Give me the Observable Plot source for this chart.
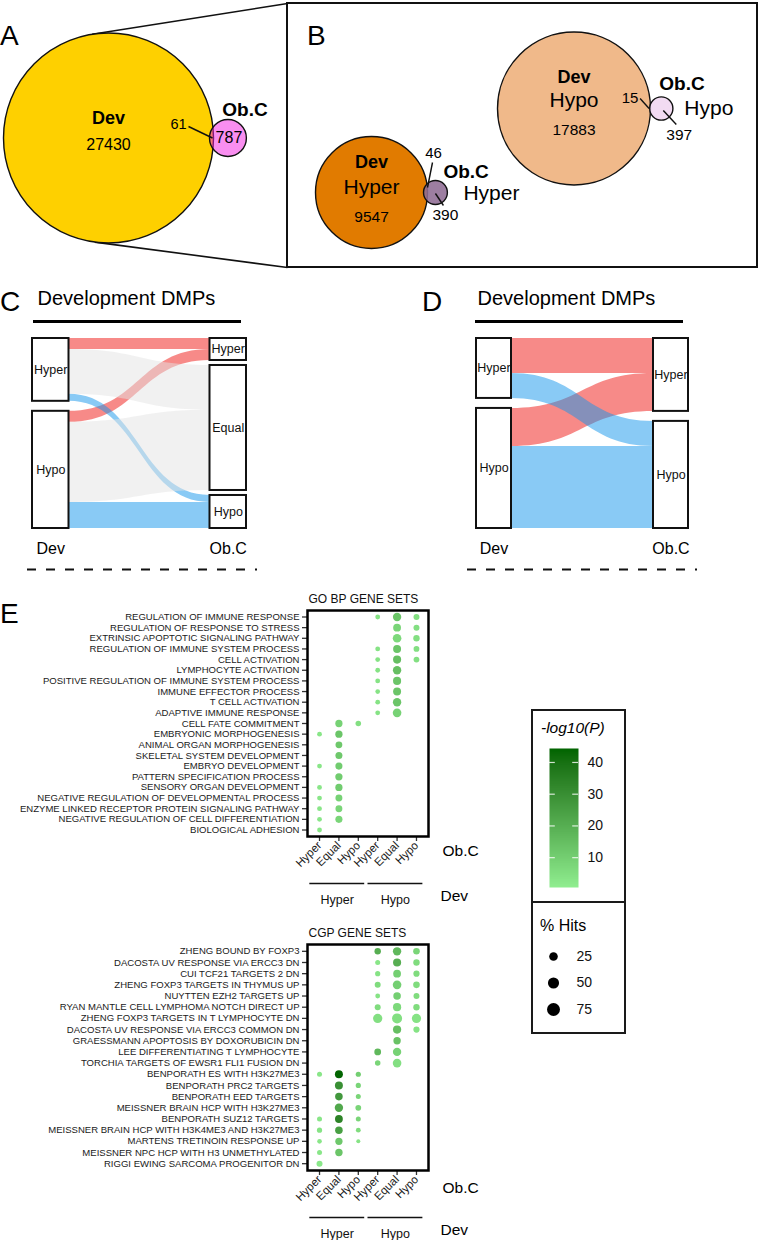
<!DOCTYPE html>
<html><head><meta charset="utf-8">
<script src="https://cdn.jsdelivr.net/npm/d3@7"></script>
<script src="https://cdn.jsdelivr.net/npm/@observablehq/plot@0.6"></script>
<style>
html,body{margin:0;padding:0;background:#fff;}
#root{position:relative;width:759px;height:1240px;overflow:hidden;font-family:"Liberation Sans",Arial,Helvetica,sans-serif;color:#000;background:#fff;}
.abs{position:absolute;}
.abs svg{display:block;overflow:visible;}
</style></head><body><div id="root"></div>
<script>
const FONT = '"Liberation Sans", Arial, Helvetica, sans-serif';
const _ = null;

// ---------- Panel A / B : Venn counts ----------
const vennA_sets = ["Dev", "Ob.C"];
const vennA_only = [27430, 787];
const vennA_overlap = 61;
const vennB_dirs = ["Hyper", "Hypo"];
const vennB_devOnly = [9547, 17883];
const vennB_obcOnly = [390, 397];
const vennB_overlap = [46, 15];

// ---------- Panel C / D : alluvial flows ----------
const devLevels = ["Hyper", "Hypo"];
const obcLevelsC = ["Hyper", "Equal", "Hypo"];
const flowC_dev = ["Hyper", "Hyper", "Hyper", "Hypo", "Hypo", "Hypo"];
const flowC_obc = ["Hyper", "Equal", "Hypo", "Hyper", "Equal", "Hypo"];
const flowC_n   = [1675, 6852, 1066, 1683, 12238, 3977];
const obcLevelsD = ["Hyper", "Hypo"];
const flowD_dev = ["Hyper", "Hyper", "Hypo", "Hypo"];
const flowD_obc = ["Hyper", "Hypo", "Hyper", "Hypo"];
const flowD_pct = [19.4, 13.9, 21.1, 45.6];

// ---------- Panel E : enrichment dot plots ----------
const obcCols = ["Hyper", "Equal", "Hypo"];
const devGroups = ["Hyper", "Hypo"];
const goTerms = [
  "REGULATION OF IMMUNE RESPONSE","REGULATION OF RESPONSE TO STRESS","EXTRINSIC APOPTOTIC SIGNALING PATHWAY",
  "REGULATION OF IMMUNE SYSTEM PROCESS","CELL ACTIVATION","LYMPHOCYTE ACTIVATION",
  "POSITIVE REGULATION OF IMMUNE SYSTEM PROCESS","IMMUNE EFFECTOR PROCESS","T CELL ACTIVATION",
  "ADAPTIVE IMMUNE RESPONSE","CELL FATE COMMITMENT","EMBRYONIC MORPHOGENESIS","ANIMAL ORGAN MORPHOGENESIS",
  "SKELETAL SYSTEM DEVELOPMENT","EMBRYO DEVELOPMENT","PATTERN SPECIFICATION PROCESS","SENSORY ORGAN DEVELOPMENT",
  "NEGATIVE REGULATION OF DEVELOPMENTAL PROCESS","ENZYME LINKED RECEPTOR PROTEIN SIGNALING PATHWAY",
  "NEGATIVE REGULATION OF CELL DIFFERENTIATION","BIOLOGICAL ADHESION"];
// columns: Dev Hyper x (Hyper, Equal, Hypo), Dev Hypo x (Hyper, Equal, Hypo)
const goPct = [
  [_,_,_,3.4,23,8],[_,_,_,_,19,8],[_,_,_,_,25,10],[_,_,_,3.4,20,7],[_,_,_,3.4,21,7],
  [_,_,_,3.4,23,_],[_,_,_,3.4,21,_],[_,_,_,3,20,_],[_,_,_,3.4,23,_],[_,_,_,3.4,25,_],
  [_,15,6,_,_,_],[3.4,15,_,_,_,_],[_,12.5,_,_,_,_],[_,13.5,_,_,_,_],[3.4,14,_,_,_,_],
  [_,15,_,_,_,_],[3.4,15,_,_,_,_],[3.4,13,_,_,_,_],[3.4,13,_,_,_,_],[3.4,14,_,_,_,_],[3.4,_,_,_,_,_]];
const goLogP = [
  [_,_,_,4,13,5],[_,_,_,_,8,5],[_,_,_,_,7,5],[_,_,_,4,13,5],[_,_,_,4,15,5],
  [_,_,_,4,15,_],[_,_,_,4,13,_],[_,_,_,4,13,_],[_,_,_,4,13,_],[_,_,_,4,9,_],
  [_,9,5,_,_,_],[3,13,_,_,_,_],[_,12,_,_,_,_],[_,12,_,_,_,_],[3,11,_,_,_,_],
  [_,11,_,_,_,_],[3,11,_,_,_,_],[3,9,_,_,_,_],[3,8,_,_,_,_],[3,8,_,_,_,_],[3,_,_,_,_,_]];
const cgpTerms = [
  "ZHENG BOUND BY FOXP3","DACOSTA UV RESPONSE VIA ERCC3 DN","CUI TCF21 TARGETS 2 DN",
  "ZHENG FOXP3 TARGETS IN THYMUS UP","NUYTTEN EZH2 TARGETS UP","RYAN MANTLE CELL LYMPHOMA NOTCH DIRECT UP",
  "ZHENG FOXP3 TARGETS IN T LYMPHOCYTE DN","DACOSTA UV RESPONSE VIA ERCC3 COMMON DN",
  "GRAESSMANN APOPTOSIS BY DOXORUBICIN DN","LEE DIFFERENTIATING T LYMPHOCYTE",
  "TORCHIA TARGETS OF EWSR1 FLI1 FUSION DN","BENPORATH ES WITH H3K27ME3","BENPORATH PRC2 TARGETS",
  "BENPORATH EED TARGETS","MEISSNER BRAIN HCP WITH H3K27ME3","BENPORATH SUZ12 TARGETS",
  "MEISSNER BRAIN HCP WITH H3K4ME3 AND H3K27ME3","MARTENS TRETINOIN RESPONSE UP",
  "MEISSNER NPC HCP WITH H3 UNMETHYLATED","RIGGI EWING SARCOMA PROGENITOR DN"];
const cgpPct = [
  [_,_,_,10,23,11],[_,_,_,4,21,10],[_,_,_,4.7,18.7,9],[_,_,_,8,25,11],[_,_,_,3.4,17,8],
  [_,_,_,8,21.7,10],[_,_,_,30,38,30],[_,_,_,_,21.7,9],[_,_,_,_,16,_],[_,_,_,12,23,_],
  [_,_,_,6,25,_],[4,20,4.7,_,_,_],[_,20,4.7,_,_,_],[_,17,4,_,_,_],[_,23,7,_,_,_],
  [4,19,4,_,_,_],[4.7,17,3.4,_,_,_],[2.8,15,1.4,_,_,_],[4,16,_,_,_,_],[8,_,_,_,_,_]];
const cgpLogP = [
  [_,_,_,20,17,8],[_,_,_,3,20,6],[_,_,_,4,10,6],[_,_,_,6,10,6],[_,_,_,4,10,6],
  [_,_,_,6,7,6],[_,_,_,5,5,4],[_,_,_,_,15,4],[_,_,_,_,14,_],[_,_,_,17,9,_],
  [_,_,_,8,5,_],[3,44,10,_,_,_],[_,30,8,_,_,_],[_,27,8,_,_,_],[_,22,8,_,_,_],
  [3,34,8,_,_,_],[4,25,6,_,_,_],[3,12,4,_,_,_],[3,13,_,_,_,_],[2.5,_,_,_,_,_]];
const logPTicks = [10, 20, 30, 40];
const hitsLegend = [25, 50, 75];

// ---------- shared scales ----------
const colorOpts = {type: "linear", domain: [0.6, 44.4], range: ["#90EE90", "#006400"], interpolate: "lab"};
const rOpts = {type: "sqrt", domain: [0, 75], range: [1.3, 6.5]};
const baseStyle = {fontFamily: FONT, background: "transparent", overflow: "visible", color: "#000"};

const root = document.getElementById("root");
function place(el, left, top, w, h) {
  const d = document.createElement("div");
  d.className = "abs";
  d.style.left = left + "px"; d.style.top = top + "px";
  if (w) d.style.width = w + "px";
  if (h) d.style.height = h + "px";
  d.appendChild(el); root.appendChild(d); return d;
}

// ================= Venn A =================
const devTotA = vennA_only[0] + vennA_overlap, obcTotA = vennA_only[1] + vennA_overlap;
const LA = {cx: 108, cy: 137.5, depth: 4, rMax: 105};
const rScaleA = {type: "sqrt", domain: [0, devTotA], range: [0, LA.rMax]};
const sA = Plot.scale({r: rScaleA});
const RA = sA.apply(devTotA), rA2 = sA.apply(obcTotA);
const devA = {n: devTotA, x: LA.cx, y: LA.cy};
const obcA = {n: obcTotA, x: LA.cx + RA + rA2 - LA.depth, y: LA.cy};
const ovA = {x: LA.cx + RA - LA.depth / 2, y: LA.cy};
const boxB = {x1: 287, y1: 3, x2: 757, y2: 267};
function tangent(P, C, R, sign) {
  const dx = P.x - C.x, dy = P.y - C.y, d = Math.hypot(dx, dy);
  const a = Math.atan2(dy, dx) + sign * Math.acos(R / d);
  return {x: C.x + R * Math.cos(a), y: C.y + R * Math.sin(a)};
}
const tTop = tangent({x: boxB.x1, y: boxB.y1}, devA, RA, -1);
const tBot = tangent({x: boxB.x1, y: boxB.y2}, devA, RA, 1);
const zoomLines = [
  {x1: tTop.x, y1: tTop.y, x2: boxB.x1, y2: boxB.y1},
  {x1: tBot.x, y1: tBot.y, x2: boxB.x1, y2: boxB.y2}];

const vennFrame = {width: 759, height: 270, margin: 0,
  x: {domain: [0, 759], range: [0, 759], axis: null},
  y: {domain: [0, 270], range: [0, 270], axis: null}, style: baseStyle};

const plotA = Plot.plot({...vennFrame, r: rScaleA, marks: [
  Plot.link(zoomLines, {x1: "x1", y1: "y1", x2: "x2", y2: "y2", stroke: "#111", strokeWidth: 1.6}),
  Plot.rect([boxB], {x1: "x1", y1: "y1", x2: "x2", y2: "y2", fill: "none", stroke: "#111", strokeWidth: 2}),
  Plot.dot([devA], {x: "x", y: "y", r: "n", fill: "#FED000", stroke: "#111", strokeWidth: 1.4}),
  Plot.dot([obcA], {x: "x", y: "y", r: "n", fill: "#F31DE2", fillOpacity: 0.5, stroke: "#111", strokeWidth: 1.4}),
  Plot.text([devA], {x: "x", y: "y", text: () => vennA_sets[0], dy: -19.5, fontWeight: "bold", fontSize: 18}),
  Plot.text([devA], {x: "x", y: "y", text: () => String(vennA_only[0]), dy: 6.5, fontSize: 16}),
  Plot.text([obcA], {x: "x", y: "y", text: () => vennA_sets[1], dx: 17, dy: -28, fontWeight: "bold", fontSize: 19}),
  Plot.text([obcA], {x: "x", y: "y", text: () => String(vennA_only[1]), dx: 1, fontSize: 16}),
  Plot.text([ovA], {x: "x", y: "y", text: () => String(vennA_overlap), dx: -33, dy: -14, fontSize: 14.5}),
  Plot.link([ovA], {x1: d => d.x - 23, y1: d => d.y - 11.5, x2: d => d.x + 1, y2: "y", stroke: "#111", strokeWidth: 1.4})
]});
place(plotA, 0, 0, 759, 270);

// ================= Venn B =================
const rScaleB = {type: "sqrt", domain: [0, vennB_devOnly[0] + vennB_overlap[0]], range: [0, 56]};
const sB = Plot.scale({r: rScaleB});
const LB = [
  {cx: 371, cy: 192, depth: 4, dev: [-30, -5, 25], obcTitle: [8, -21], obcDir: [28, 1], obcN: [10, 23], obcLead: [0, 1, 8, 13], ovN: [8, -39], ovLead: [7, -30, 2, -5]},
  {cx: 573.5, cy: 108, depth: 0.8, dev: [-31, -8, 22], obcTitle: [-2, -25], obcDir: [23, 0], obcN: [18, 27], obcLead: [2, 2, 15, 16], ovN: [-20, -10], ovLead: [-10, -10, -1, 0]}];
const vB = vennB_dirs.map((dir, k) => {
  const L = LB[k];
  const devN = vennB_devOnly[k] + vennB_overlap[k], obcN = vennB_obcOnly[k] + vennB_overlap[k];
  const R = sB.apply(devN), r = sB.apply(obcN);
  return {k, dir, L, devN, obcN, dx: L.cx, dy: L.cy, ox: L.cx + R + r - L.depth, oy: L.cy, vx: L.cx + R - L.depth / 2, vy: L.cy,
          devOnly: vennB_devOnly[k], obcOnly: vennB_obcOnly[k], ov: vennB_overlap[k]};
});
const devFillsB = ["#E17B00", "#F0B98A"], obcFillsB = ["#8F6C94", "#F0D6F0"];
const marksB = [];
vB.forEach(d => {
  const L = d.L;
  marksB.push(
    Plot.dot([d], {x: "dx", y: "dy", r: "devN", fill: devFillsB[d.k], stroke: "#111", strokeWidth: 1.4}),
    Plot.dot([d], {x: "ox", y: "oy", r: "obcN", fill: obcFillsB[d.k], fillOpacity: 0.88, stroke: "#111", strokeWidth: 1.4}),
    Plot.text([d], {x: "dx", y: "dy", text: () => "Dev", dy: L.dev[0], fontWeight: "bold", fontSize: 18}),
    Plot.text([d], {x: "dx", y: "dy", text: "dir", dy: L.dev[1], fontSize: 21}),
    Plot.text([d], {x: "dx", y: "dy", text: x => String(x.devOnly), dy: L.dev[2], fontSize: 15.5}),
    Plot.text([d], {x: "ox", y: "oy", text: () => "Ob.C", dx: L.obcTitle[0], dy: L.obcTitle[1], textAnchor: "start", fontWeight: "bold", fontSize: 19}),
    Plot.text([d], {x: "ox", y: "oy", text: "dir", dx: L.obcDir[0], dy: L.obcDir[1], textAnchor: "start", fontSize: 21}),
    Plot.text([d], {x: "ox", y: "oy", text: x => String(x.obcOnly), dx: L.obcN[0], dy: L.obcN[1], fontSize: 15.5}),
    Plot.link([d], {x1: x => x.ox + L.obcLead[0], y1: x => x.oy + L.obcLead[1], x2: x => x.ox + L.obcLead[2], y2: x => x.oy + L.obcLead[3], stroke: "#111", strokeWidth: 1.4}),
    Plot.text([d], {x: "vx", y: "vy", text: x => String(x.ov), dx: L.ovN[0], dy: L.ovN[1], fontSize: 15}),
    Plot.link([d], {x1: x => x.vx + L.ovLead[0], y1: x => x.vy + L.ovLead[1], x2: x => x.vx + L.ovLead[2], y2: x => x.vy + L.ovLead[3], stroke: "#111", strokeWidth: 1.4})
  );
});
const plotB = Plot.plot({...vennFrame, r: rScaleB, marks: marksB});
place(plotB, 0, 0, 759, 270);

// ================= Alluvial C / D =================
function alluvial(from, to, n, leftLevels, rightLevels, cfg) {
  const T = d3.sum(n), gapT = T * 10 / 180;
  const flows = n.map((v, i) => ({i, from: from[i], to: to[i], v}));
  function stackSide(levels, key, other, otherKey, p) {
    const gap = gapT / (levels.length - 1);
    let y = 0; const nodes = [];
    for (const l of levels) {
      const fl = flows.filter(f => f[key] === l).sort((a, b) => other.indexOf(a[otherKey]) - other.indexOf(b[otherKey]));
      const y0 = y;
      for (const f of fl) { f[p + "1"] = y; f[p + "2"] = y + f.v; y += f.v; }
      nodes.push({name: l, side: p === "l" ? 0 : 1, y1: y0, y2: y});
      y += gap;
    }
    return nodes;
  }
  const nodes = [...stackSide(leftLevels, "from", rightLevels, "to", "l"), ...stackSide(rightLevels, "to", leftLevels, "from", "r")];
  const pts = flows.flatMap(f => [
    {id: f.i, to: f.to, x: 0, y1: f.l1, y2: f.l2},
    {id: f.i, to: f.to, x: 1, y1: f.r1, y2: f.r2}]);
  const bw = (cfg.width - cfg.mL - cfg.mR - cfg.linkPx) / 2 / cfg.linkPx;
  const u = p => (p - cfg.left - cfg.mL) / cfg.linkPx - bw;
  const flowColors = {Hyper: "#EF1511", Hypo: "#1395EB", Equal: "#E3E3E3"};
  const drawOrder = ["Hyper", "Hypo", "Equal"].filter(k => rightLevels.includes(k));
  const top = 0, bottom = T + gapT;
  const marks = [
    ...drawOrder.map(k => Plot.area(pts.filter(p => p.to === k), {x1: "x", y1: "y1", y2: "y2", z: "id", fill: flowColors[k], fillOpacity: 0.5, curve: "bump-x"})),
    Plot.rect(nodes, {x1: d => d.side ? 1 : -bw, x2: d => d.side ? 1 + bw : 0, y1: "y1", y2: "y2", fill: "white", stroke: "#111", strokeWidth: 2}),
    Plot.text(nodes, {x: d => d.side ? 1 + bw / 2 : -bw / 2, y: d => (d.y1 + d.y2) / 2, text: "name", fontSize: 12.5, fill: "#111"}),
    Plot.text(["Development DMPs"], {x: () => u(cfg.title), y: () => top, text: d => d, dy: -40.4, textAnchor: "start", fontSize: 20}),
    Plot.ruleY([top], {x1: () => u(cfg.underline[0]), x2: () => u(cfg.underline[1]), dy: -17, stroke: "#000", strokeWidth: 3}),
    Plot.text([{t: "Dev", x: -bw / 2}, {t: "Ob.C", x: 1 + bw / 2}], {x: "x", y: () => bottom, text: "t", dy: 20, fontSize: 16}),
    Plot.ruleY([bottom], {x1: () => u(cfg.dashed[0]), x2: () => u(cfg.dashed[1]), dy: 41, stroke: "#111", strokeWidth: 2, strokeDasharray: "9,10"})
  ];
  const p = Plot.plot({width: cfg.width, height: cfg.height, marginLeft: cfg.mL, marginRight: cfg.mR, marginTop: cfg.mT, marginBottom: cfg.mB,
    x: {domain: [-bw, 1 + bw], axis: null}, y: {domain: [0, bottom], reverse: true, axis: null}, style: baseStyle, marks});
  place(p, cfg.left, cfg.top, cfg.width, cfg.height);
}
alluvial(flowC_dev, flowC_obc, flowC_n, devLevels, obcLevelsC,
  {left: 0, top: 280, width: 380, height: 300, mL: 32, mR: 134, mT: 58, mB: 52, linkPx: 141, title: 37, underline: [33, 241], dashed: [27, 257]});
alluvial(flowD_dev, flowD_obc, flowD_pct, devLevels, obcLevelsD,
  {left: 380, top: 280, width: 379, height: 300, mL: 96, mR: 71, mT: 58, mB: 52, linkPx: 142, title: 477, underline: [475, 683], dashed: [467, 697]});

// ================= Dot panels E =================
function dotPanel(terms, pct, logp, title, top, height, mB, obcDy) {
  const nR = terms.length, nC = devGroups.length * obcCols.length;
  const data = [];
  pct.forEach((row, i) => row.forEach((v, j) => { if (v != null) data.push({row: i, col: j, pct: v, logp: logp[i][j]}); }));
  const yBottom = nR - 1 + 0.61;
  const groups = devGroups.map((g, k) => {
    const a = k * obcCols.length - 0.5, b = (k + 1) * obcCols.length - 1 + 0.33;
    return {name: g, x1: a, x2: b, mid: (a + b) / 2};
  });
  const p = Plot.plot({width: 490, height, marginLeft: 307, marginRight: 62, marginTop: 30, marginBottom: mB,
    x: {type: "linear", domain: [-0.62, nC - 1 + 0.62]},
    y: {type: "linear", domain: [-0.61, yBottom], reverse: true},
    r: rOpts, color: colorOpts, style: baseStyle,
    marks: [
      Plot.axisY({ticks: d3.range(nR), tickFormat: i => terms[i], tickSize: 5, tickPadding: 3, fontSize: 9.55, label: null, strokeWidth: 1.3, stroke: "#333", fill: "#1a1a1a"}),
      Plot.axisX({ticks: d3.range(nC), tickFormat: j => obcCols[j % obcCols.length], tickSize: 5, tickPadding: 2, tickRotate: -45, textAnchor: "end", fontSize: 11.5, label: null, strokeWidth: 1.3, stroke: "#333", fill: "#1a1a1a"}),
      Plot.dot(data, {x: "col", y: "row", r: "pct", fill: "logp"}),
      Plot.frame({stroke: "#000", strokeWidth: 2.5}),
      Plot.text([title], {frameAnchor: "top-left", text: d => d, dx: 1, dy: -16, textAnchor: "start", fontSize: 12, fill: "#111"}),
      Plot.ruleY(groups, {y: () => yBottom, x1: "x1", x2: "x2", dy: 47, stroke: "#111", strokeWidth: 1.5}),
      Plot.text(groups, {x: "mid", y: () => yBottom, text: "name", dy: 63, fontSize: 12.5, fill: "#111"}),
      Plot.text(["Ob.C"], {frameAnchor: "bottom-right", text: d => d, dx: 14, dy: obcDy, textAnchor: "start", fontSize: 15.5}),
      Plot.text(["Dev"], {frameAnchor: "bottom-right", text: d => d, dx: 12, dy: 64, textAnchor: "start", fontSize: 15.5})
    ]});
  place(p, 0, top, 490, height);
}
dotPanel(goTerms, goPct, goLogP, "GO BP GENE SETS", 580, 330, 74, 19);
dotPanel(cgpTerms, cgpPct, cgpLogP, "CGP GENE SETS", 914, 326, 70, 22);

// ================= Legend =================
function box(left, top, w, h) {
  const d = document.createElement("div");
  d.className = "abs";
  Object.assign(d.style, {left: left + "px", top: top + "px", width: w + "px", height: h + "px", border: "2px solid #1a1a1a", boxSizing: "border-box"});
  root.appendChild(d);
}
box(531, 709, 95, 194);
box(531, 901, 95, 133);
function label(text, left, cy, fs, extra) {
  const d = document.createElement("div");
  d.className = "abs";
  d.textContent = text;
  Object.assign(d.style, {left: left + "px", top: (cy - fs * 0.58) + "px", fontSize: fs + "px", lineHeight: "1.15", whiteSpace: "nowrap"}, extra || {});
  root.appendChild(d);
}
label("-log10(P)", 541, 728, 15.5, {fontStyle: "italic"});
label("% Hits", 540, 926, 16);

const legC = Plot.plot({width: 94, height: 155, marginLeft: 18, marginRight: 47, marginTop: 8, marginBottom: 8,
  x: {domain: [0, 1], axis: null}, y: {domain: colorOpts.domain, axis: null}, color: colorOpts, style: baseStyle,
  marks: [
    Plot.raster({x1: 0, x2: 1, y1: colorOpts.domain[0], y2: colorOpts.domain[1], width: 1, height: 200, fill: (x, y) => y, imageRendering: "auto"}),
    Plot.ruleY(logPTicks, {x1: 0, x2: 0.2, stroke: "white", strokeWidth: 1.2, strokeOpacity: 0.8}),
    Plot.ruleY(logPTicks, {x1: 0.8, x2: 1, stroke: "white", strokeWidth: 1.2, strokeOpacity: 0.8}),
    Plot.text(logPTicks, {x: () => 1, y: d => d, text: d => String(d), dx: 9, textAnchor: "start", fontSize: 14, fill: "#111"})
  ]});
place(legC, 531, 740, 94, 155);

const legR = Plot.plot({width: 94, height: 80, marginLeft: 22, marginRight: 49, marginTop: 16, marginBottom: 11,
  x: {domain: [0, 1], range: [22, 45], axis: null}, y: {domain: [25, 75], range: [16, 69], axis: null}, r: rOpts, style: baseStyle,
  marks: [
    Plot.dot(hitsLegend, {x: () => 0, y: d => d, r: d => d, fill: "#000"}),
    Plot.text(hitsLegend, {x: () => 1, y: d => d, text: d => String(d), textAnchor: "start", fontSize: 14, fill: "#111"})
  ]});
place(legR, 531, 940, 94, 80);

// ================= panel letters =================
const ns = "http://www.w3.org/2000/svg";
const lsvg = document.createElementNS(ns, "svg");
lsvg.setAttribute("width", 759); lsvg.setAttribute("height", 1240);
[["A", 0, 45], ["B", 307, 45], ["C", 0, 311], ["D", 422, 311], ["E", 0, 623]].forEach(([t, x, y]) => {
  const e = document.createElementNS(ns, "text");
  e.setAttribute("x", x); e.setAttribute("y", y);
  e.setAttribute("font-family", FONT); e.setAttribute("font-size", 28);
  e.textContent = t; lsvg.appendChild(e);
});
const ld = place(lsvg, 0, 0, 759, 1240);
ld.style.pointerEvents = "none";
</script></body></html>
